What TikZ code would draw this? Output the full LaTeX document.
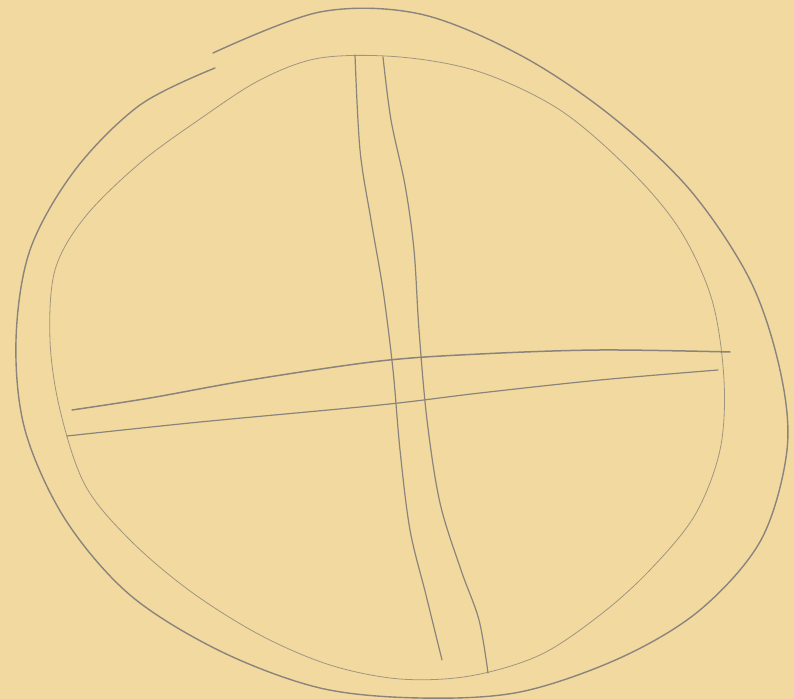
\documentclass[tikz,border=0pt]{standalone}
\definecolor{paper}{RGB}{242,217,160}
\definecolor{pencil}{RGB}{138,132,124}
\definecolor{pencilfaint}{RGB}{160,150,128}

\begin{document}
\begin{tikzpicture}[x=0.5pt, y=-0.5pt, line cap=round, line join=round]
  \fill[paper] (0,0) rectangle (794,699);
  \useasboundingbox (0,0) rectangle (794,699);

  % outer ring
  \draw[pencil, line width=0.7pt] plot[smooth, tension=0.55] coordinates {
    (213,53) (320,12) (420,14) (520,55) (610,115) (690,190) (750,280)
    (780,370) (787,450) (761,540) (700,610) (620,658) (520,692) (420,698)
    (320,688) (220,651) (130,595) (65,519) (25,430) (16,340) (30,250)
    (75,170) (140,105) (215,68)};

  % inner ring
  \draw[pencilfaint, line width=0.4pt] plot[smooth cycle, tension=0.55] coordinates {
    (320,58) (400,57) (480,72) (560,110) (630,170) (680,230) (712,300)
    (724,380) (720,450) (695,515) (650,570) (600,615) (540,655) (470,676)
    (400,679) (330,665) (260,635) (190,591) (130,540) (85,485) (60,410)
    (50,340) (55,270) (85,217) (140,163) (200,119) (260,80)};

  % vertical bar
  \draw[pencil, line width=0.6pt] plot[smooth, tension=0.55] coordinates {
    (355,55) (360,150) (371,220) (383,290) (393,370) (400,450) (410,530)
    (426,595) (442,660)};
  \draw[pencil, line width=0.6pt] plot[smooth, tension=0.55] coordinates {
    (383,57) (391,120) (405,185) (414,250) (419,330) (427,420) (440,503)
    (461,570) (479,620) (488,673)};

  % horizontal bar
  \draw[pencil, line width=0.75pt] plot[smooth, tension=0.55] coordinates {
    (72,410) (150,398) (250,380) (380,361) (480,354) (600,350) (730,352)};
  \draw[pencil, line width=0.6pt] plot[smooth, tension=0.55] coordinates {
    (67,436) (200,422) (380,405) (480,393) (600,380) (718,370)};
\end{tikzpicture}
\end{document}
